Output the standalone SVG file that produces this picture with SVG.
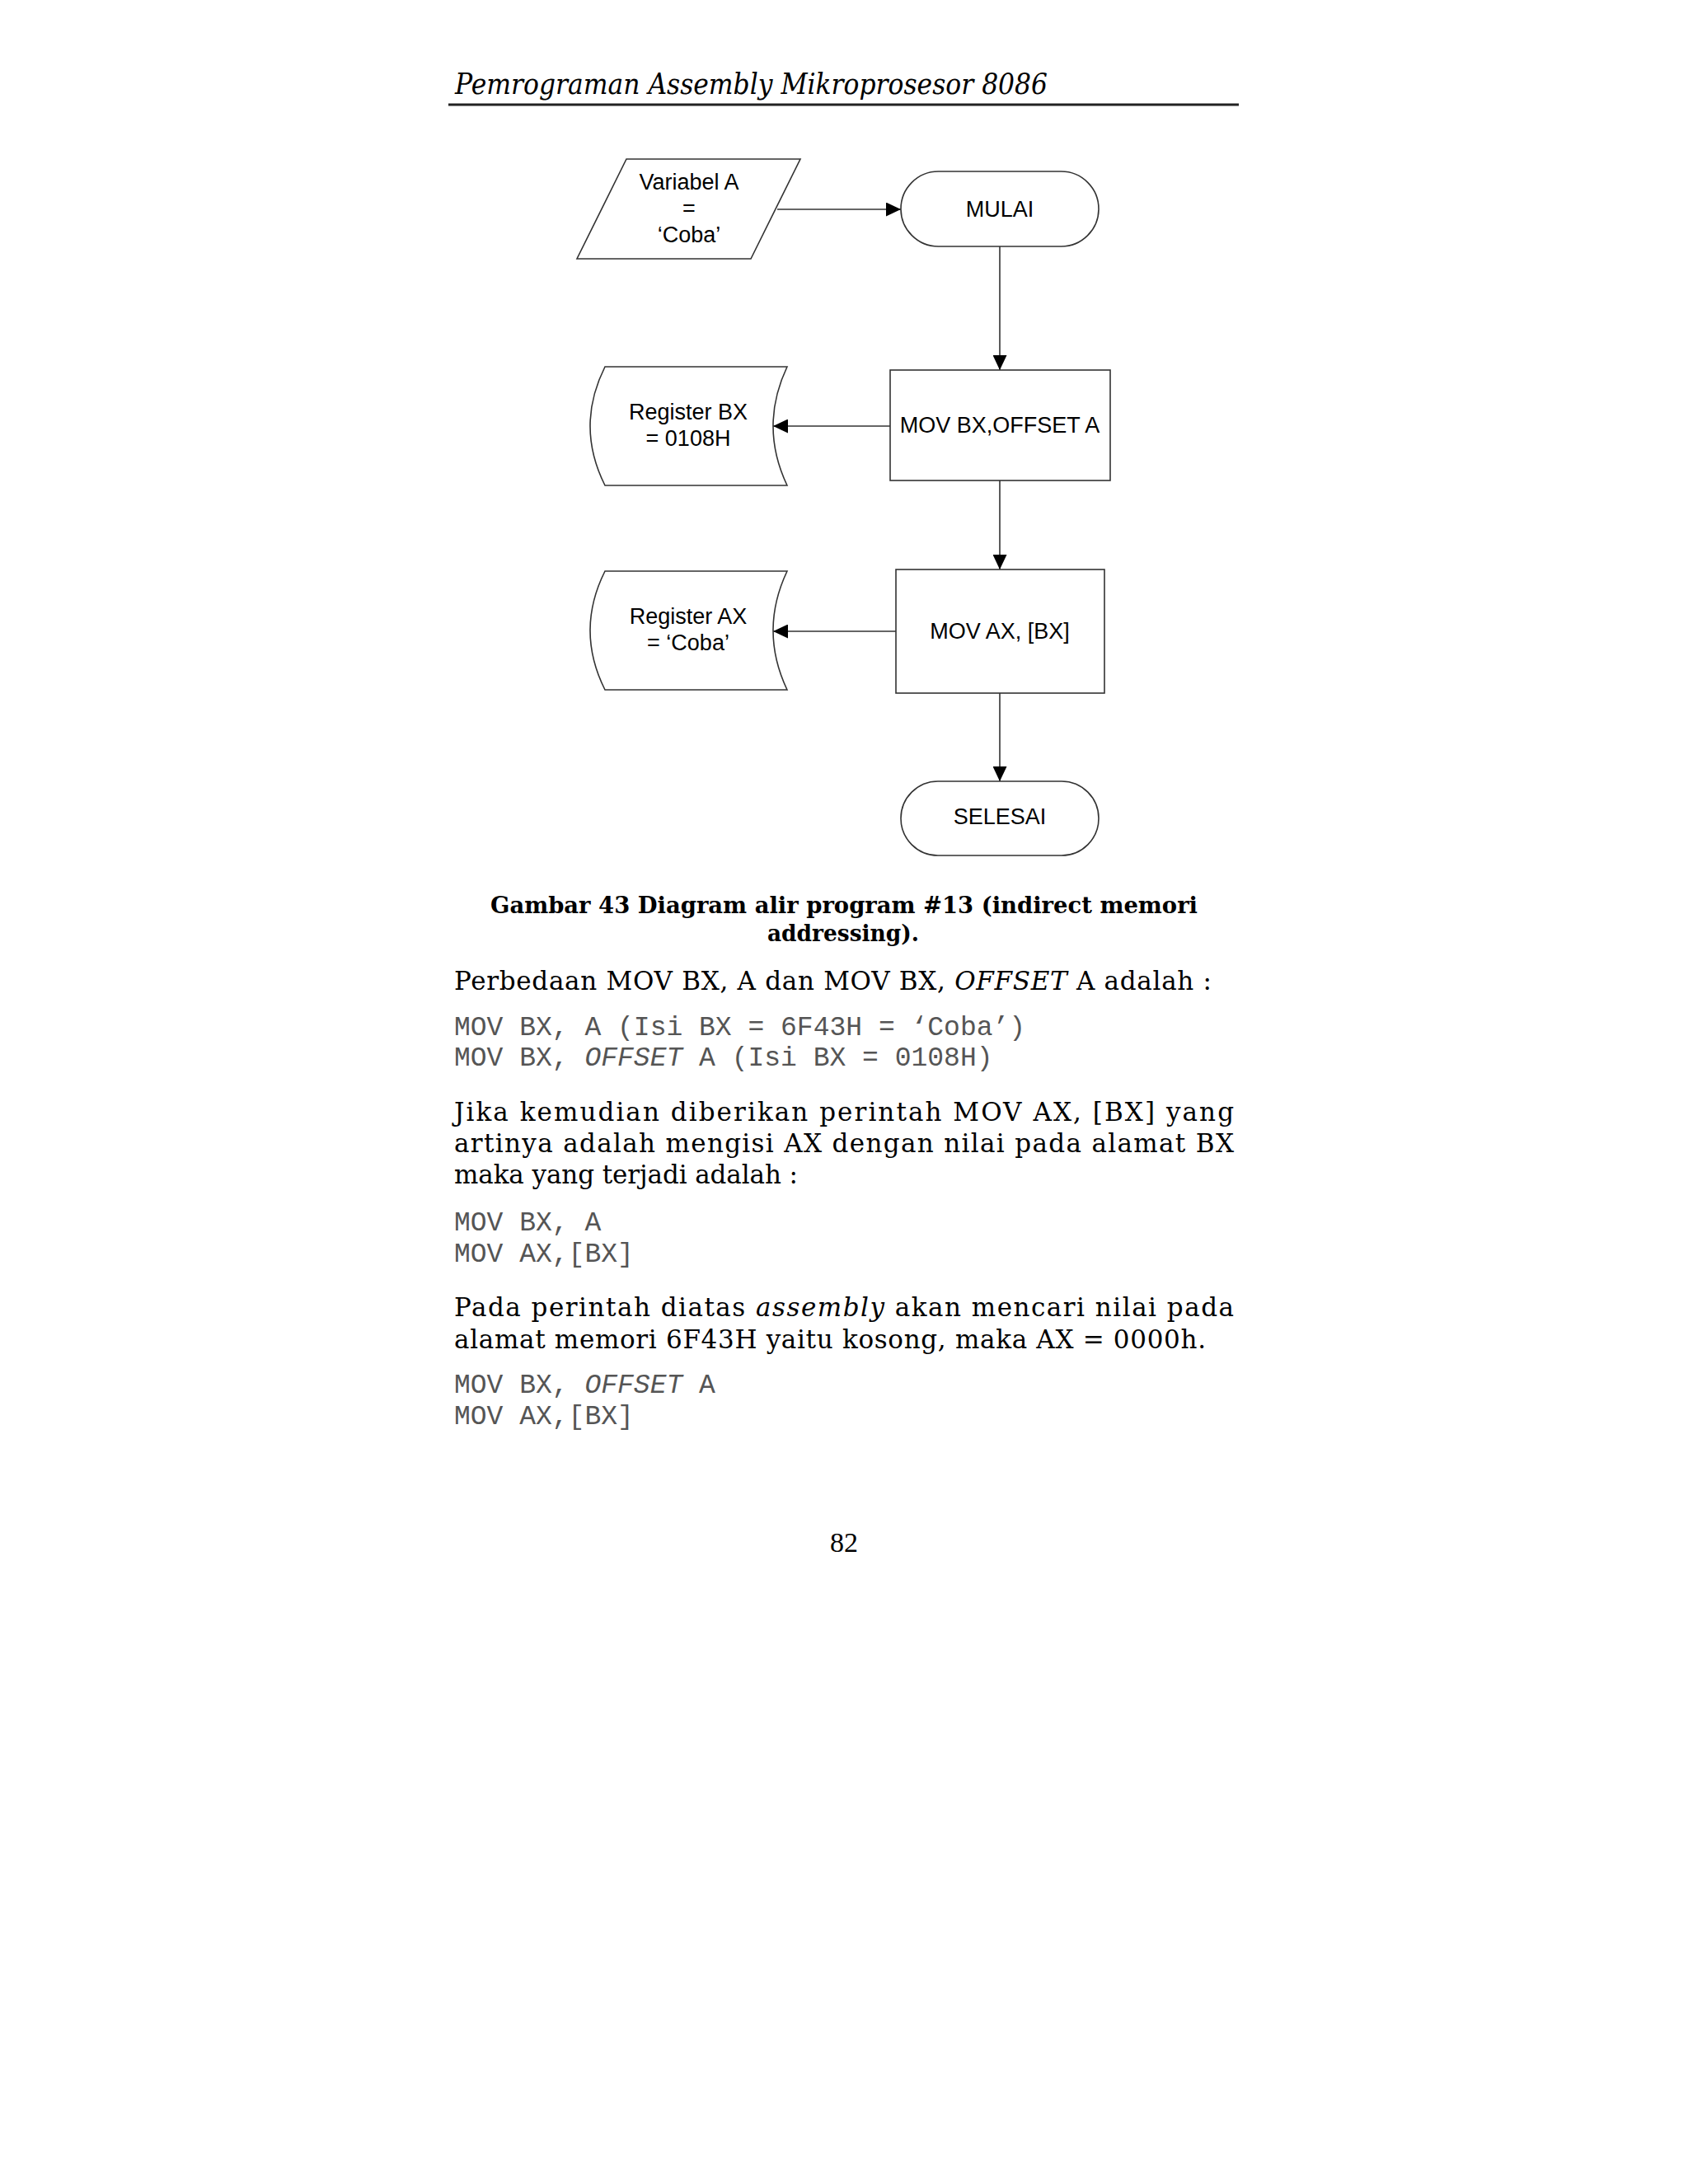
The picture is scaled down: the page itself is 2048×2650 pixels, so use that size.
<svg xmlns="http://www.w3.org/2000/svg" width="2048" height="2650" viewBox="0 0 2048 2650">
<style>
.shape{fill:#fff;stroke:#333;stroke-width:1.6}
.conn{fill:none;stroke:#333;stroke-width:1.6}
.lbl{font-family:"Liberation Sans",Arial,sans-serif;font-size:27px;fill:#000;text-anchor:middle}
.body{font-family:"DejaVu Serif","Liberation Serif",serif;font-size:31px;fill:#000}
.code{font-family:"Liberation Mono","Courier New",monospace;font-size:33px;fill:#555}
.cap{font-family:"DejaVu Serif","Liberation Serif",serif;font-size:28px;font-weight:bold;fill:#000}
.it{font-style:italic}
</style>
<defs>
<marker id="ah" markerUnits="userSpaceOnUse" markerWidth="18" markerHeight="17" refX="18" refY="8.5" orient="auto">
<path d="M0,0 L18,8.5 L0,17 Z" fill="#000"/>
</marker>
</defs>
<rect width="2048" height="2650" fill="#fff"/>

<g id="header">
<text x="552" y="114" class="body it" style="font-size:36px" textLength="719" lengthAdjust="spacingAndGlyphs">Pemrograman Assembly Mikroprosesor 8086</text>
<line x1="544" y1="127" x2="1503" y2="127" stroke="#222" stroke-width="3"/>
</g>

<g id="connectors">
<path class="conn" d="M943,254 L1093,254" marker-end="url(#ah)"/>
<path class="conn" d="M1213,299 L1213,449" marker-end="url(#ah)"/>
<path class="conn" d="M1080,517 L938,517" marker-end="url(#ah)"/>
<path class="conn" d="M1213,583 L1213,691" marker-end="url(#ah)"/>
<path class="conn" d="M1087,766 L938,766" marker-end="url(#ah)"/>
<path class="conn" d="M1213,841 L1213,948" marker-end="url(#ah)"/>
</g>

<g id="n_variabel">
<polygon class="shape" points="760,193 971,193 911,314 700,314"/>
<text class="lbl" x="836" y="230">Variabel A</text>
<text class="lbl" x="836" y="262">=</text>
<text class="lbl" x="836" y="294">‘Coba’</text>
</g>

<g id="n_mulai">
<rect class="shape" x="1093" y="208" width="240" height="91" rx="45.5" ry="45.5"/>
<text class="lbl" x="1213" y="263">MULAI</text>
</g>

<g id="n_movbx">
<rect class="shape" x="1080" y="449" width="267" height="134"/>
<text class="lbl" x="1213" y="525">MOV BX,OFFSET A</text>
</g>

<g id="n_regbx">
<path class="shape" d="M734,445 L955,445 Q921,517 955,589 L734,589 Q698,517 734,445 Z"/>
<text class="lbl" x="835" y="509">Register BX</text>
<text class="lbl" x="835" y="541">= 0108H</text>
</g>

<g id="n_movax">
<rect class="shape" x="1087" y="691" width="253" height="150"/>
<text class="lbl" x="1213" y="775">MOV AX, [BX]</text>
</g>

<g id="n_regax">
<path class="shape" d="M734,693 L955,693 Q921,765 955,837 L734,837 Q698,765 734,693 Z"/>
<text class="lbl" x="835" y="757">Register AX</text>
<text class="lbl" x="835" y="789">= ‘Coba’</text>
</g>

<g id="n_selesai">
<rect class="shape" x="1093" y="948" width="240" height="90" rx="45" ry="45"/>
<text class="lbl" x="1213" y="1000">SELESAI</text>
</g>

<g id="text">
<text class="cap" x="595" y="1108" textLength="858" lengthAdjust="spacingAndGlyphs">Gambar 43 Diagram alir program #13 (indirect memori</text>
<text class="cap" x="931" y="1142" textLength="184" lengthAdjust="spacingAndGlyphs">addressing).</text>

<text class="body" x="551" y="1201" textLength="919" lengthAdjust="spacing">Perbedaan MOV BX, A dan MOV BX, <tspan class="it">OFFSET</tspan> A adalah :</text>
<text class="code" x="551" y="1256">MOV BX, A (Isi BX = 6F43H = ‘Coba’)</text>
<text class="code" x="551" y="1293">MOV BX, <tspan class="it">OFFSET</tspan> A (Isi BX = 0108H)</text>

<text class="body" x="551" y="1360" textLength="946" lengthAdjust="spacing">Jika kemudian diberikan perintah MOV AX, [BX] yang</text>
<text class="body" x="551" y="1398" textLength="946" lengthAdjust="spacing">artinya adalah mengisi AX dengan nilai pada alamat BX</text>
<text class="body" x="551" y="1436" textLength="417" lengthAdjust="spacing">maka yang terjadi adalah :</text>
<text class="code" x="551" y="1493">MOV BX, A</text>
<text class="code" x="551" y="1531">MOV AX,[BX]</text>

<text class="body" x="551" y="1597" textLength="946" lengthAdjust="spacing">Pada perintah diatas <tspan class="it">assembly</tspan> akan mencari nilai pada</text>
<text class="body" x="551" y="1636" textLength="912" lengthAdjust="spacing">alamat memori 6F43H yaitu kosong, maka AX = 0000h.</text>
<text class="code" x="551" y="1690">MOV BX, <tspan class="it">OFFSET</tspan> A</text>
<text class="code" x="551" y="1728">MOV AX,[BX]</text>

<text x="1024" y="1883" text-anchor="middle" font-family="Liberation Serif, 'Times New Roman', serif" font-size="34" fill="#000">82</text>
</g>
</svg>
